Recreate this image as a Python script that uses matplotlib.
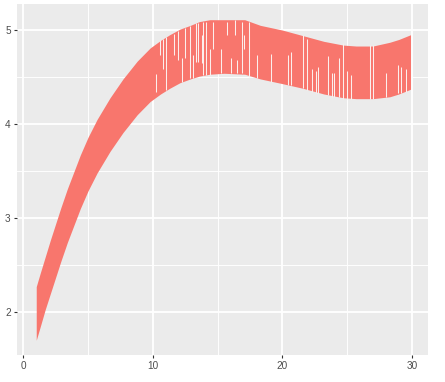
import matplotlib
matplotlib.use('Agg')
import matplotlib.pyplot as plt

plt.rcParams['font.family'] = ['Liberation Sans', 'DejaVu Sans']

BAND_COLOR = '#F8766D'
GAP_COLOR = '#FCEFED'
PANEL = '#EBEBEB'

# band envelope
x_knots = [1.0, 1.3, 1.7, 2.1, 2.5, 2.9, 3.4, 3.9, 4.4, 5.0, 5.7, 6.7, 7.7, 8.8,
           9.8, 10.6, 11.3, 12.1, 12.9, 13.6, 14.4, 15.5, 17.1, 18.3, 20.0, 21.6,
           23.2, 24.7, 25.7, 27.0, 28.3, 29.0, 29.9]
upper = [2.27, 2.41, 2.59, 2.77, 2.94, 3.11, 3.31, 3.49, 3.67, 3.86, 4.05, 4.28,
         4.48, 4.67, 4.81, 4.89, 4.95, 5.01, 5.05, 5.09, 5.11, 5.11, 5.11, 5.05,
         5.00, 4.94, 4.88, 4.84, 4.83, 4.83, 4.87, 4.90, 4.95]
lower = [1.70, 1.84, 2.03, 2.20, 2.37, 2.54, 2.74, 2.92, 3.10, 3.29, 3.48, 3.71,
         3.91, 4.10, 4.24, 4.32, 4.38, 4.44, 4.48, 4.51, 4.53, 4.54, 4.53, 4.48,
         4.43, 4.38, 4.32, 4.28, 4.27, 4.27, 4.29, 4.32, 4.37]

# thin light streaks through the band (x, top, bottom)
gap_x = [10.25, 10.53, 10.76, 11.02, 11.64, 11.97, 12.28, 12.49, 12.87, 13.08,
         13.31, 13.52, 13.77, 13.90, 14.11, 14.42, 14.62, 15.24, 15.70, 16.02,
         16.35, 16.53, 16.86, 17.07, 17.40, 18.02, 19.13, 20.47, 20.67, 21.57,
         21.88, 22.32, 22.58, 22.73, 23.55, 23.81, 23.99, 24.40, 24.66, 24.97,
         25.31, 26.78, 27.03, 28.01, 28.96, 29.14, 29.56]
gap_top = [4.53, 4.89, 4.91, 4.93, 4.96, 4.99, 4.70, 5.02, 5.04, 4.73,
           5.07, 5.07, 4.95, 5.09, 5.09, 4.80, 5.09, 4.80, 5.09, 4.70,
           5.11, 4.68, 5.09, 4.95, 5.09, 4.73, 4.75, 4.73, 4.77, 4.95,
           4.91, 4.59, 4.56, 4.61, 4.72, 4.54, 4.54, 4.70, 4.86, 4.56,
           4.52, 4.84, 4.84, 4.54, 4.63, 4.61, 4.59]
gap_bottom = [4.34, 4.73, 4.59, 4.36, 4.73, 4.68, 4.45, 4.70, 4.49, 4.49,
              4.66, 4.66, 4.65, 4.52, 4.52, 4.52, 4.80, 4.54, 4.95, 4.54,
              4.95, 4.54, 4.54, 4.80, 4.50, 4.49, 4.45, 4.42, 4.42, 4.38,
              4.36, 4.34, 4.33, 4.33, 4.31, 4.29, 4.29, 4.29, 4.27, 4.27,
              4.27, 4.27, 4.27, 4.29, 4.33, 4.33, 4.34]

x_ticks = [0, 10, 20, 30]
y_ticks = [2, 3, 4, 5]
x_minor = [5, 15, 25]
y_minor = [2.5, 3.5, 4.5]

fig = plt.figure(figsize=(4.45, 3.82), dpi=100)
ax = fig.add_axes([0.0382, 0.0707, 0.9236, 0.9188])
ax.set_facecolor(PANEL)

ax.fill_between(x_knots, lower, upper, color=BAND_COLOR, linewidth=0, zorder=2)
ax.vlines(gap_x, gap_bottom, gap_top, colors=GAP_COLOR, linewidth=0.75, zorder=3)

ax.set_xlim(-0.486, 31.25)
ax.set_ylim(1.543, 5.277)
ax.set_xticks(x_ticks)
ax.set_yticks(y_ticks)
ax.set_xticks(x_minor, minor=True)
ax.set_yticks(y_minor, minor=True)
ax.set_axisbelow(True)
ax.grid(True, which='major', color='white', linewidth=1.3)
ax.grid(True, which='minor', color='white', linewidth=0.65)
ax.tick_params(which='major', length=2.5, width=0.8, color='#333333',
               labelsize=7.2, labelcolor='#4D4D4D', pad=2)
ax.tick_params(which='minor', length=0)
for s in ax.spines.values():
    s.set_visible(False)

fig.savefig('out.png', dpi=100)
